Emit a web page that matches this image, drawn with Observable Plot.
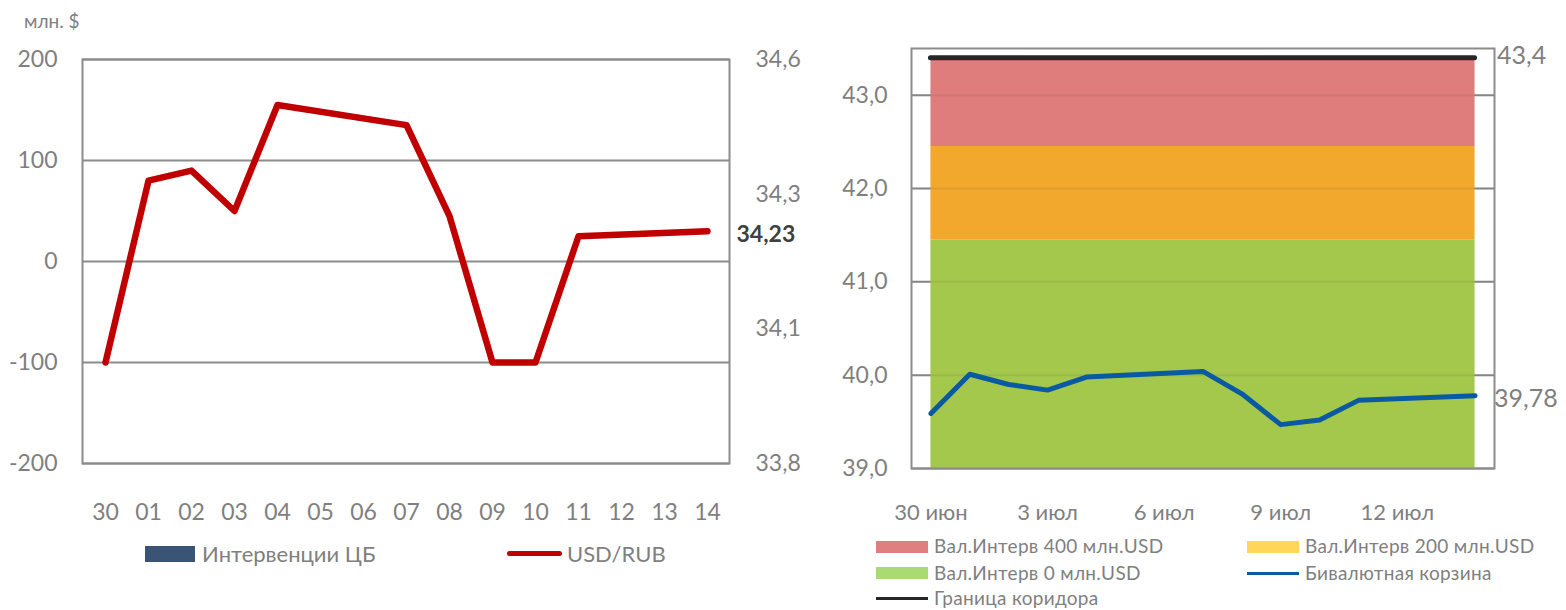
<!DOCTYPE html>
<html><head><meta charset="utf-8">
<script src="https://cdn.jsdelivr.net/npm/d3@7"></script>
<script src="https://cdn.jsdelivr.net/npm/@observablehq/plot@0.6"></script>
<style>
body{margin:0;background:#fff;}
#wrap{position:relative;width:1566px;height:610px;overflow:hidden;font-family:Lato,"Open Sans",sans-serif;color:#7f7f7f;background:#fff;}
.pl{position:absolute;top:0;}
.lg{position:absolute;white-space:nowrap;line-height:1;}
.sw{position:absolute;}
</style></head><body><div id="wrap"></div>
<script>
// ---------- Left chart data ----------
const dayLabels = ["30","01","02","03","04","05","06","07","08","09","10","11","12","13","14"];
const rubDays = ["30","01","02","03","04","07","08","09","10","11","14"];
const rubValues = [34.00, 34.36, 34.38, 34.30, 34.51, 34.47, 34.29, 34.00, 34.00, 34.25, 34.26];
const interventions = [0,0,0,0,0,0,0,0,0,0,0];
const mlnTicks = [-200, -100, 0, 100, 200];
const rubTicks = [33.8, 34.0667, 34.3333, 34.6];
const rubLastLabel = "34,23";
const unitLabel = "млн. $";
const leftLegend = ["Интервенции ЦБ", "USD/RUB"];

// ---------- Right chart data ----------
const basketDates = ["2014-06-30","2014-07-01","2014-07-02","2014-07-03","2014-07-04","2014-07-07","2014-07-08","2014-07-09","2014-07-10","2014-07-11","2014-07-14"];
const basketValues = [39.59, 40.01, 39.90, 39.84, 39.98, 40.04, 39.80, 39.47, 39.52, 39.73, 39.78];
const bandNames = ["Вал.Интерв 0 млн.USD", "Вал.Интерв 200 млн.USD", "Вал.Интерв 400 млн.USD"];
const bandLows = [39.0, 41.45, 42.45];
const bandHighs = [41.45, 42.45, 43.4];
const corridorTop = 43.4;
const basketTicks = [39, 40, 41, 42, 43];
const dateTicks = ["2014-06-30","2014-07-03","2014-07-06","2014-07-09","2014-07-12"];
const dateTickLabels = ["30 июн","3 июл","6 июл","9 июл","12 июл"];
const rightLegend = ["Вал.Интерв 400 млн.USD","Вал.Интерв 200 млн.USD","Вал.Интерв 0 млн.USD","Бивалютная корзина","Граница коридора"];

const GRAY = "#7f7f7f", GRID = "#8c8c8c";
const comma = v => v.toFixed(1).replace(".", ",");
const wrap = document.getElementById("wrap");

// ---------- Left chart ----------
const mlnToRub = m => 34.2 + m * 0.002; // secondary (left) axis position on the RUB scale
const rubData = rubDays.map((d, i) => ({day: d, v: rubValues[i], iv: interventions[i]}));

const left = Plot.plot({
  width: 800, height: 540,
  marginLeft: 82, marginRight: 71, marginTop: 59, marginBottom: 77,
  style: {fontFamily: "Lato, 'Open Sans', sans-serif", fontSize: "23px", color: GRAY, background: "transparent", overflow: "visible"},
  x: {type: "point", domain: dayLabels, padding: 0.5, axis: null},
  y: {domain: [33.8, 34.6], axis: null},
  marks: [
    Plot.ruleY(mlnTicks.map(mlnToRub), {stroke: GRID, strokeWidth: 2}),
    Plot.frame({stroke: GRID, strokeWidth: 2}),
    Plot.ruleX(rubData, {x: "day", y1: () => mlnToRub(0), y2: d => mlnToRub(d.iv), stroke: "#3a5475", strokeWidth: 30}),
    Plot.axisY({anchor: "left", label: null, ticks: mlnTicks.map(mlnToRub), tickFormat: (v, i) => String(mlnTicks[i]), tickSize: 0, tickPadding: 25, fill: GRAY}),
    Plot.axisY({anchor: "right", label: null, ticks: rubTicks, tickFormat: comma, tickSize: 0, tickPadding: 26, fill: GRAY}),
    Plot.axisX({anchor: "bottom", label: null, tickSize: 0, tickPadding: 40, fill: GRAY}),
    Plot.line(rubData, {x: "day", y: "v", stroke: "#c00000", strokeWidth: 6.5, strokeLinejoin: "round", strokeLinecap: "round"}),
    Plot.text([rubData[rubData.length - 1]], {x: "day", y: "v", text: () => rubLastLabel, dx: 29, dy: 3, textAnchor: "start", fontWeight: "bold", fontSize: 23, fill: "#404040"})
  ]
});
left.classList.add("pl");
left.style.left = "0px";
wrap.appendChild(left);

// ---------- Right chart ----------
const parse = s => new Date(s + "T00:00:00Z");
const bData = basketDates.map((d, i) => ({date: parse(d), v: basketValues[i]}));
const firstDate = bData[0].date, lastDate = bData[bData.length - 1].date;
const bandColors = ["#a4c84b", "#f2a82c", "#df7d7d"];
const bands = bandNames.map((n, i) => ({name: n, lo: bandLows[i], hi: bandHighs[i], color: bandColors[i]}));

const right = Plot.plot({
  width: 746, height: 540,
  marginLeft: 91, marginRight: 72, marginTop: 48, marginBottom: 72,
  style: {fontFamily: "Lato, 'Open Sans', sans-serif", fontSize: "23px", color: GRAY, background: "transparent", overflow: "visible"},
  x: {type: "utc", domain: [new Date(Date.UTC(2014,5,29,12)), new Date(Date.UTC(2014,6,14,12))], axis: null},
  y: {domain: [39, 43.5], axis: null},
  marks: [
    Plot.ruleY(basketTicks, {stroke: GRID, strokeWidth: 2}),
    Plot.rect(bands, {x1: () => firstDate, x2: () => lastDate, y1: "lo", y2: "hi", fill: "color"}),
    Plot.ruleY(basketTicks, {stroke: "#555", strokeWidth: 2, strokeOpacity: 0.12}),
    Plot.frame({stroke: GRID, strokeWidth: 2}),
    Plot.axisY({anchor: "left", label: null, ticks: basketTicks, tickFormat: comma, tickSize: 0, tickPadding: 24, fill: GRAY}),
    Plot.axisX({anchor: "bottom", label: null, ticks: dateTicks.map(parse), tickFormat: (d, i) => dateTickLabels[i], tickSize: 0, tickPadding: 36, fill: GRAY, fontSize: 22}),
    Plot.ruleY([corridorTop], {x1: () => firstDate, x2: () => lastDate, stroke: "#262626", strokeWidth: 5, strokeLinecap: "round"}),
    Plot.line(bData, {x: "date", y: "v", stroke: "#0a5aa3", strokeWidth: 5, strokeLinejoin: "round"}),
    Plot.text([corridorTop], {x: () => lastDate, y: d => d, text: d => comma(d), dx: 22, dy: -2, textAnchor: "start", fontSize: 25, fill: GRAY}),
    Plot.text([bData[bData.length - 1]], {x: "date", y: "v", text: d => d.v.toFixed(2).replace(".", ","), dx: 19, dy: 3, textAnchor: "start", fontSize: 25, fill: GRAY})
  ]
});
right.classList.add("pl");
right.style.left = "820px";
wrap.appendChild(right);

// ---------- Titles & legends (HTML) ----------
function addText(txt, x, yc, size, extra) {
  const d = document.createElement("div");
  d.className = "lg";
  d.textContent = txt;
  d.style.left = x + "px";
  d.style.top = (yc - size * 0.55) + "px";
  d.style.fontSize = size + "px";
  if (extra) Object.assign(d.style, extra);
  wrap.appendChild(d);
}
function addSwatch(x, y, w, h, color, radius) {
  const d = document.createElement("div");
  d.className = "sw";
  Object.assign(d.style, {left: x + "px", top: y + "px", width: w + "px", height: h + "px", background: color, borderRadius: (radius || 0) + "px"});
  wrap.appendChild(d);
}
addText(unitLabel, 24, 21, 19);

// left legend
addSwatch(145, 546, 50, 16, "#3a5475");
addText(leftLegend[0], 202, 555, 22);
addSwatch(507, 550.5, 55, 5, "#c00000", 3);
addText(leftLegend[1], 567, 555, 22);

// right legend
const rl = [
  {t: rightLegend[0], x: 876, y: 546.5, kind: "box", c: "#df7f7f"},
  {t: rightLegend[1], x: 1247, y: 546.5, kind: "box", c: "#ffd55a"},
  {t: rightLegend[2], x: 876, y: 573, kind: "box", c: "#a9da74"},
  {t: rightLegend[3], x: 1247, y: 573, kind: "line", c: "#0a5aa3"},
  {t: rightLegend[4], x: 876, y: 598.5, kind: "line", c: "#262626"}
];
rl.forEach(r => {
  if (r.kind === "box") addSwatch(r.x, r.y - 6, 52, 12, r.c);
  else addSwatch(r.x, r.y - 1.5, 52, 3, r.c);
  addText(r.t, r.x + 58, r.y, 19, {letterSpacing: "0.3px"});
});
</script>
</body></html>
